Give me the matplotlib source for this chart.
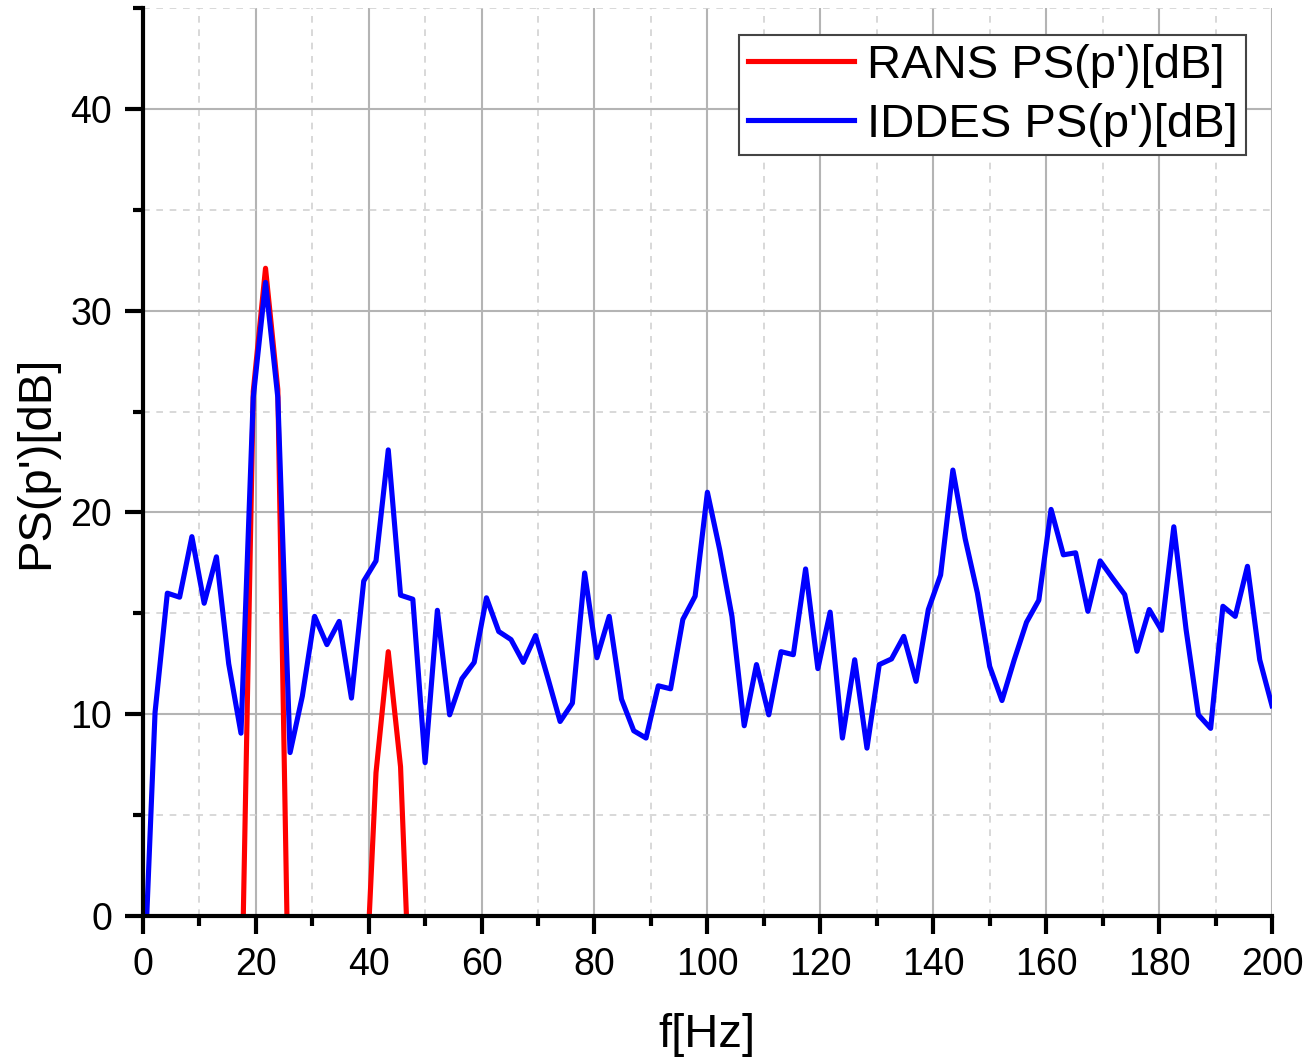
import numpy as np
import matplotlib
matplotlib.use("Agg")
import matplotlib.pyplot as plt
from matplotlib.ticker import MultipleLocator

plt.rcParams['font.family'] = ['Liberation Sans', 'DejaVu Sans']

# ----- data -----
# frequency bins (93 bins from 0 to 200 Hz)
freq = np.linspace(0, 200, 93)

iddes_db = [-4.8, 10.1, 16.0, 15.8, 18.8, 15.5, 17.8, 12.5, 9.06, 25.7,
            31.4, 25.7, 8.1, 10.9, 14.85, 13.45, 14.6, 10.8, 16.6, 17.6,
            23.1, 15.9, 15.7, 7.6, 15.15, 9.97, 11.76, 12.57, 15.77, 14.1,
            13.7, 12.57, 13.9, 11.8, 9.64, 10.55, 17.0, 12.8, 14.85, 10.75,
            9.18, 8.82, 11.41, 11.26, 14.7, 15.85, 21.0, 18.16, 14.85, 9.43,
            12.46, 9.97, 13.1, 12.95, 17.2, 12.26, 15.06, 8.82, 12.7, 8.32,
            12.46, 12.74, 13.86, 11.63, 15.19, 16.9, 22.1, 18.7, 16.0, 12.37,
            10.68, 12.7, 14.56, 15.65, 20.15, 17.9, 18.0, 15.1, 17.6, 16.75,
            15.93, 13.12, 15.19, 14.16, 19.29, 14.19, 9.97, 9.3, 15.35, 14.85,
            17.33, 12.7, 10.42]

# RANS only has energy around the two tonal peaks (rest is below 0 dB)
rans_bins = list(range(8, 23))
rans_db = [-6.0, 26.0, 32.1, 26.1, -9.0, -15.0, -20.0, -22.0, -18.0, -12.0,
           -5.8, 7.1, 13.1, 7.4, -8.0]

# ----- plot -----
fig = plt.figure(figsize=(13.1, 10.59), dpi=100)
ax = fig.add_axes([0.109, 0.135, 0.862, 0.8575])

ax.plot(freq[rans_bins], rans_db, color='#ff0000', lw=3.7, label="RANS PS(p')[dB]",
        solid_joinstyle='round')
ax.plot(freq, iddes_db, color='#0000ff', lw=3.7, label="IDDES PS(p')[dB]",
        solid_joinstyle='round')

ax.set_xlim(0, 200)
ax.set_ylim(0, 45)
ax.xaxis.set_major_locator(MultipleLocator(20))
ax.xaxis.set_minor_locator(MultipleLocator(10))
ax.yaxis.set_major_locator(MultipleLocator(10))
ax.yaxis.set_minor_locator(MultipleLocator(5))

ax.grid(which='major', color='#b4b4b4', lw=1.5, ls='-')
ax.grid(which='minor', color='#d2d2d2', lw=1.2, ls=(0, (4, 4)))
ax.set_axisbelow(True)

for s in ['top', 'right']:
    ax.spines[s].set_visible(False)
for s in ['left', 'bottom']:
    ax.spines[s].set_linewidth(3)

ax.tick_params(which='major', length=13, width=3, labelsize=27, pad=9)
ax.tick_params(which='minor', length=7, width=3)

ax.set_xlabel("f[Hz]", fontsize=34, labelpad=22)
ax.set_ylabel("PS(p')[dB]", fontsize=34, labelpad=9)

leg = ax.legend(loc='upper right', bbox_to_anchor=(0.977, 0.97), fontsize=34,
                fancybox=False, framealpha=1, edgecolor='#444444',
                handlelength=2.25, handletextpad=0.27, borderpad=0.18,
                labelspacing=0.32, borderaxespad=0)
leg.get_frame().set_linewidth(1.5)

fig.savefig("out.png", dpi=100)
